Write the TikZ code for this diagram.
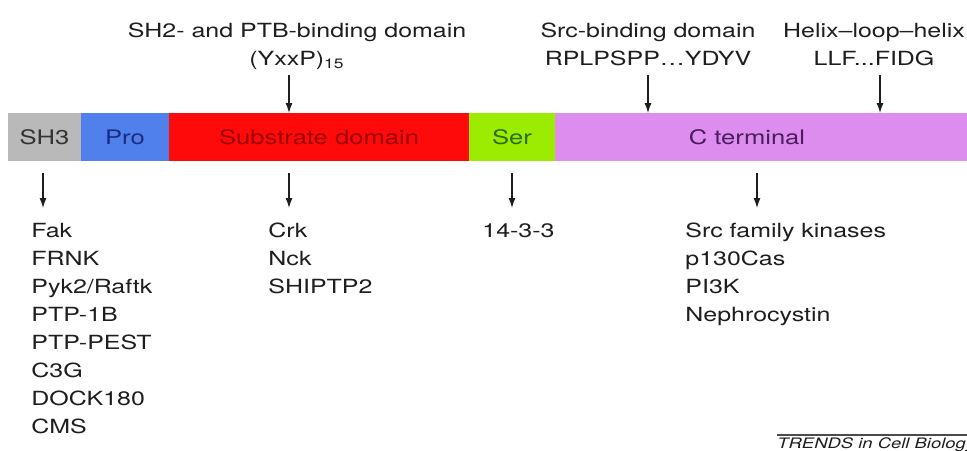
\documentclass[tikz,border=0pt]{standalone}
\usepackage{fontspec}
\setmainfont{TeX Gyre Heros}[FakeStretch=1.28]
\usetikzlibrary{arrows.meta,positioning}

\definecolor{sh3grey}{HTML}{B9B9B9}
\definecolor{problue}{HTML}{4F80EC}
\definecolor{subred}{HTML}{FF0A0A}
\definecolor{sergreen}{HTML}{9BEC00}
\definecolor{ctermviolet}{HTML}{DC8DEE}
\definecolor{sh3text}{HTML}{333333}
\definecolor{protext}{HTML}{1C2A80}
\definecolor{subtext}{HTML}{9A0000}
\definecolor{sertext}{HTML}{2D6B00}
\definecolor{ctermtext}{HTML}{4B1C5E}
\definecolor{ink}{HTML}{1E1E1E}

\tikzstyle{segment} = [inner sep=0pt, outer sep=0pt, minimum height=24pt, font=\fontsize{10}{12}\selectfont]
\tikzstyle{pointer} = [draw, ink, line width=0.6pt, -{Latex[length=5pt,width=3.5pt]}]
\tikzstyle{site} = [align=center, anchor=north, inner sep=0pt, text=ink, font=\fontsize{9.75}{13.75}\selectfont]
\tikzstyle{partners} = [align=left, anchor=north west, inner sep=0pt, text=ink, font=\fontsize{9.75}{14}\selectfont]

\begin{document}
\begin{tikzpicture}[x=0.5pt,y=-0.5pt]
		\useasboundingbox (0,0) rectangle (967,450);
		\clip (0,0) rectangle (967,450);
		\fill[white] (0,0) rectangle (967,450);

		% the domain bar
		\node[segment, fill=sh3grey, text=sh3text, minimum width=36.5pt, anchor=west] (sh3) at (8,137) {SH3};
		\node[segment, fill=problue, text=protext, minimum width=44pt, right=0pt of sh3] (pro) {Pro};
		\node[segment, fill=subred, text=subtext, minimum width=150pt, right=0pt of pro] (substrate) {Substrate domain};
		\node[segment, fill=sergreen, text=sertext, minimum width=43pt, right=0pt of substrate] (ser) {Ser};
		\node[segment, fill=ctermviolet, minimum width=206pt, right=0pt of ser,
			label={[segment, text=ctermtext, xshift=-7pt]center:C terminal}] (cterm) {};

		% binding sites above the bar
		\node[site] (sh2site) at (297,23) {SH2- and PTB-binding domain\\(YxxP)\textsubscript{15}};
		\node[site] (srcsite) at (648,23) {Src-binding domain\\RPLPSPP\ldots YDYV};
		\node[site] (hlhsite) at (874,23) {Helix--loop--helix\\LLF...FIDG};

		\coordinate (sh2arrow) at (289,75);
		\coordinate (srcarrow) at (648,75);
		\coordinate (hlharrow) at (880,75);
		\draw[pointer] (sh2arrow) -- (sh2arrow |- substrate.north);
		\draw[pointer] (srcarrow) -- (srcarrow |- cterm.north);
		\draw[pointer] (hlharrow) -- (hlharrow |- cterm.north);

		% binding partners below the bar
		\node[partners] (sh3list) at (31,223) {Fak\\FRNK\\Pyk2/Raftk\\PTP-1B\\PTP-PEST\\C3G\\DOCK180\\CMS};
		\node[partners] (sublist) at (268,223) {Crk\\Nck\\SHIPTP2};
		\node[partners] (serlist) at (482,223) {14-3-3};
		\node[partners] (ctermlist) at (685,223) {Src family kinases\\p130Cas\\PI3K\\Nephrocystin};

		\coordinate (sh3arrow) at (43,173);
		\coordinate (subarrow) at (289,173);
		\coordinate (serarrow) at (512,173);
		\coordinate (ctermarrow) at (757,173);
		\draw[pointer, shorten >=7.5pt] (sh3arrow) -- (sh3arrow |- sh3list.north);
		\draw[pointer, shorten >=7.5pt] (subarrow) -- (subarrow |- sublist.north);
		\draw[pointer, shorten >=7.5pt] (serarrow) -- (serarrow |- serlist.north);
		\draw[pointer, shorten >=7.5pt] (ctermarrow) -- (ctermarrow |- ctermlist.north);

		% journal tag, cut by the edge
		\node[anchor=base west, inner sep=0pt, text=ink, font=\fontsize{7.2}{8}\selectfont\itshape] (trends) at (777,448.5) {TRENDS in Cell Biology};
		\draw[line width=0.6pt, ink!80] (trends.west |- 0,435) -- (967,435);
	\end{tikzpicture}
\end{document}
